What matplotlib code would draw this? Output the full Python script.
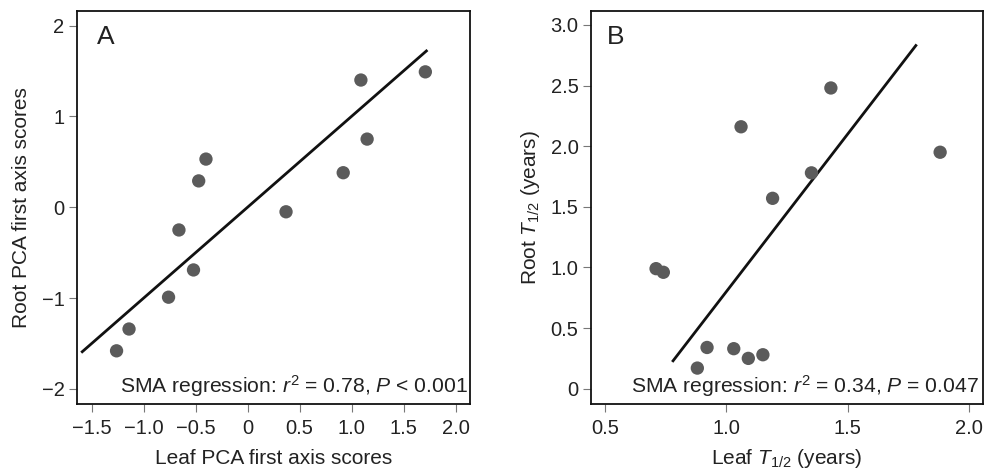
import matplotlib
matplotlib.use("Agg")
import matplotlib.pyplot as plt

# Panel A: PCA first axis scores
leaf_pca = [-1.26, -1.14, -0.76, -0.52, -0.66, -0.47, -0.40, 0.37, 0.92, 1.09, 1.15, 1.71]
root_pca = [-1.58, -1.34, -0.99, -0.69, -0.25, 0.29, 0.53, -0.05, 0.38, 1.40, 0.75, 1.49]
sma_a_x = [-1.59, 1.72]
sma_a_y = [-1.59, 1.72]

# Panel B: half-lives (years)
leaf_t = [0.71, 0.74, 0.88, 0.92, 1.03, 1.09, 1.15, 1.06, 1.19, 1.35, 1.43, 1.88]
root_t = [0.99, 0.96, 0.17, 0.34, 0.33, 0.25, 0.28, 2.16, 1.57, 1.78, 2.48, 1.95]
sma_b_x = [0.78, 1.78]
sma_b_y = [0.23, 2.83]

plt.rcParams["font.family"] = ["Liberation Sans", "DejaVu Sans"]
plt.rcParams["mathtext.fontset"] = "custom"
plt.rcParams["mathtext.it"] = "Liberation Sans:italic"
plt.rcParams["mathtext.rm"] = "Liberation Sans"

DOT = "#5b5b5b"
TXT = "#222222"
FS_TICK = 14.5
FS_LAB = 15
FS_NOTE = 15.2

fig = plt.figure(figsize=(9.84, 4.71), dpi=100)
ax_a = fig.add_axes([0.0783, 0.1423, 0.3994, 0.8344])
ax_b = fig.add_axes([0.6006, 0.1423, 0.3980, 0.8344])


def style(ax):
    for s in ax.spines.values():
        s.set_linewidth(1.3)
        s.set_color("#111111")
    ax.tick_params(direction="out", length=6, width=0.8, color="#777777",
                   labelsize=FS_TICK, labelcolor=TXT, pad=3)
    ax.tick_params(axis="x", pad=5)


ax_a.scatter(leaf_pca, root_pca, s=92, color=DOT, edgecolors="none", zorder=3)
ax_a.plot(sma_a_x, sma_a_y, color="#111111", lw=2.0, zorder=2)
ax_a.set_xlim(-1.64, 2.14)
ax_a.set_ylim(-2.165, 2.16)
ax_a.set_xticks([-1.5, -1.0, -0.5, 0, 0.5, 1.0, 1.5, 2.0])
ax_a.set_xticklabels(["\u22121.5", "\u22121.0", "\u22120.5", "0", "0.5", "1.0", "1.5", "2.0"])
ax_a.set_yticks([-2, -1, 0, 1, 2])
ax_a.set_yticklabels(["\u22122", "\u22121", "0", "1", "2"])
ax_a.set_xlabel("Leaf PCA first axis scores", fontsize=FS_LAB, color=TXT, labelpad=8)
ax_a.set_ylabel("Root PCA first axis scores", fontsize=FS_LAB, color=TXT, labelpad=8)
ax_a.text(0.05, 0.965, "A", transform=ax_a.transAxes, fontsize=19, va="top", ha="left", color=TXT)
ax_a.text(0.995, 0.012, r"SMA regression: $r^2$ = 0.78, $P$ < 0.001", transform=ax_a.transAxes,
          fontsize=FS_NOTE, va="bottom", ha="right", color=TXT)
style(ax_a)

ax_b.scatter(leaf_t, root_t, s=92, color=DOT, edgecolors="none", zorder=3)
ax_b.plot(sma_b_x, sma_b_y, color="#111111", lw=2.0, zorder=2)
ax_b.set_xlim(0.442, 2.055)
ax_b.set_ylim(-0.126, 3.115)
ax_b.set_xticks([0.5, 1.0, 1.5, 2.0])
ax_b.set_xticklabels(["0.5", "1.0", "1.5", "2.0"])
ax_b.set_yticks([0, 0.5, 1.0, 1.5, 2.0, 2.5, 3.0])
ax_b.set_yticklabels(["0", "0.5", "1.0", "1.5", "2.0", "2.5", "3.0"])
ax_b.set_xlabel(r"Leaf $T_{1/2}$ (years)", fontsize=FS_LAB, color=TXT, labelpad=6)
ax_b.set_ylabel(r"Root $T_{1/2}$ (years)", fontsize=FS_LAB, color=TXT, labelpad=6)
ax_b.text(0.04, 0.965, "B", transform=ax_b.transAxes, fontsize=19, va="top", ha="left", color=TXT)
ax_b.text(0.99, 0.012, r"SMA regression: $r^2$ = 0.34, $P$ = 0.047", transform=ax_b.transAxes,
          fontsize=FS_NOTE, va="bottom", ha="right", color=TXT)
style(ax_b)

fig.savefig("out.png", dpi=100)
